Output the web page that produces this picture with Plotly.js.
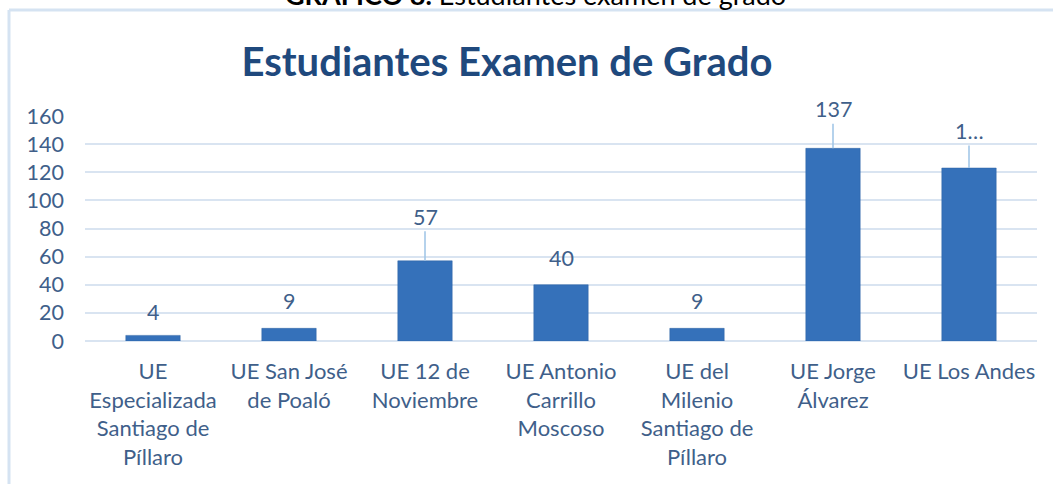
<!DOCTYPE html>
<html>
<head>
<meta charset="utf-8">
<script src="https://cdn.plot.ly/plotly-3.0.1.min.js"></script>
<style>
  html, body { margin: 0; padding: 0; background: #ffffff; }
  #chart { width: 1054px; height: 484px; }
</style>
</head>
<body>
<div id="chart"></div>
<script>
// ---- data ----
const categories = [
  "UE<br>Especializada<br>Santiago de<br>Píllaro",
  "UE San José<br>de Poaló",
  "UE 12 de<br>Noviembre",
  "UE Antonio<br>Carrillo<br>Moscoso",
  "UE del<br>Milenio<br>Santiago de<br>Píllaro",
  "UE Jorge<br>Álvarez",
  "UE Los Andes"
];
const students = [4, 9, 57, 40, 9, 137, 123];
const labelTexts = ["4", "9", "57", "40", "9", "137", "1…"];
const yTicks = [0, 20, 40, 60, 80, 100, 120, 140, 160];

// ---- styling (label placement) ----
const labelOffsets = [23, 27, 44, 27, 27, 39, 37];
const labelLeader = [false, false, true, false, false, true, true];

const labelColor = "#3F5F8A";
const font = "Lato, 'Open Sans', sans-serif";

const annotations = students.map((v, i) => {
  const base = {
    x: categories[i], y: v, xref: "x", yref: "y",
    text: labelTexts[i],
    font: { family: font, size: 21.5, color: labelColor }
  };
  if (labelLeader[i]) {
    return Object.assign(base, {
      showarrow: true, arrowhead: 0, arrowwidth: 1.5,
      arrowcolor: "#9DC3E6", ax: 0, ay: -labelOffsets[i], standoff: 0
    });
  }
  return Object.assign(base, { showarrow: false, yshift: labelOffsets[i] });
});

// caption (cut off at top in the reference)
annotations.push({
  xref: "paper", yref: "paper", x: 0.473, y: 1.46, xanchor: "center", yanchor: "bottom",
  showarrow: false,
  text: "<b>GRÁFICO 8.</b> Estudiantes examen de grado",
  font: { family: font, size: 27, color: "#000000" }
});

const trace = {
  type: "bar",
  x: categories,
  y: students,
  marker: { color: "#3571BA", line: { color: "#2E62A3", width: 0.5 } },
  hoverinfo: "x+y"
};

const frameColor = "#D5E3F2";
const layout = {
  width: 1054, height: 484,
  margin: { l: 85, r: 17, t: 116, b: 143 },
  paper_bgcolor: "#ffffff", plot_bgcolor: "#ffffff",
  title: {
    text: "<b>Estudiantes Examen de Grado</b>",
    font: { family: font, size: 40, color: "#1F497D" },
    xref: "container", yref: "container",
    x: 0.481, y: 0.872, xanchor: "center", yanchor: "middle"
  },
  bargap: 0.6,
  showlegend: false,
  xaxis: {
    type: "category",
    tickfont: { family: font, size: 22, color: labelColor },
    ticks: "", showline: false, showgrid: false,
    ticklabelstandoff: 15,
    tickangle: 0,
    fixedrange: true
  },
  yaxis: {
    range: [0, 160],
    tickvals: yTicks,
    ticktext: yTicks.map(String),
    tickfont: { family: font, size: 21.5, color: labelColor },
    gridcolor: "#D9E4F1", gridwidth: 2,
    zeroline: true, zerolinecolor: "#D9E4F1", zerolinewidth: 2,
    showline: false, ticks: "",
    ticklabelstandoff: 20,
    fixedrange: true
  },
  annotations: annotations,
  shapes: [
    { type: "line", xref: "paper", yref: "paper",
      x0: (9 - 85) / 952, x1: (1053 - 85) / 952, y0: (341 - 10) / 225, y1: (341 - 10) / 225,
      line: { color: frameColor, width: 3 } },
    { type: "line", xref: "paper", yref: "paper",
      x0: (9 - 85) / 952, x1: (9 - 85) / 952, y0: (341 - 10) / 225, y1: (341 - 490) / 225,
      line: { color: frameColor, width: 3 } }
  ]
};

Plotly.newPlot("chart", [trace], layout, { displayModeBar: false, staticPlot: true });
</script>
</body>
</html>
